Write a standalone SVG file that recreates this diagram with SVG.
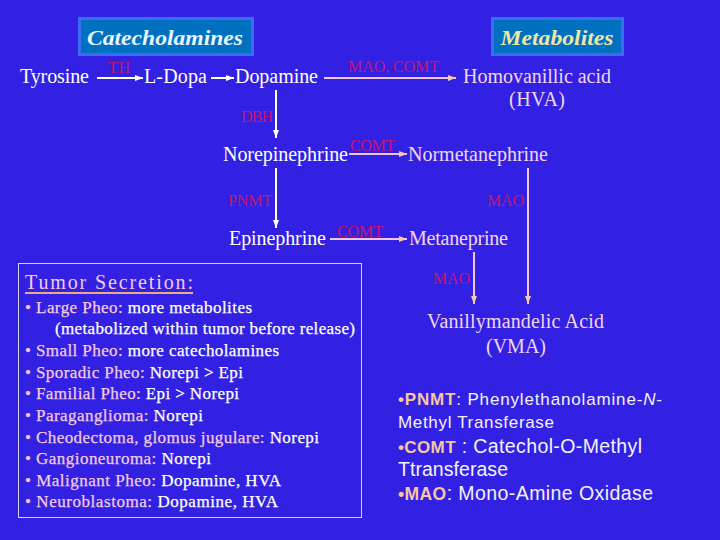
<svg xmlns="http://www.w3.org/2000/svg" width="720" height="540" viewBox="0 0 720 540">
<defs>
<style>
.bg{fill:#3221E2}
.t{font-family:"Liberation Serif","Times New Roman",serif;font-size:20px}
.w{fill:#FFFFFF}
.m{fill:#F3D6EE}
.enz{font-family:"Liberation Serif","Times New Roman",serif;font-size:16px;fill:#C4166E}
.cw{stroke:#FFFFFF;stroke-width:2;fill:none}
.cp{stroke:#F0C6E6;stroke-width:2;fill:none}
.hdr{fill:#0070C0;stroke:#3A6CF4;stroke-width:3}
.ht{font-family:"Liberation Serif","Times New Roman",serif;font-size:22px;font-style:italic;font-weight:bold}
.ts{fill:#F4CCE2}
.b{font-family:"Liberation Serif","Times New Roman",serif;font-size:17px;fill:#FFFFFF;stroke:#FFFFFF;stroke-width:0.25}
.lab{fill:#F4CCE2;stroke:#F4CCE2}
.lg{font-family:"Liberation Sans",Arial,sans-serif;fill:#F4F2FF}
.lk{fill:#F8C6A4;font-weight:bold}
</style>
<marker id="aw" viewBox="0 0 8 6" refX="8" refY="3" markerWidth="8" markerHeight="6" markerUnits="userSpaceOnUse" orient="auto"><path d="M0,0 L8,3 L0,6 z" fill="#FFFFFF"/></marker>
<marker id="ap" viewBox="0 0 8 6" refX="8" refY="3" markerWidth="8" markerHeight="6" markerUnits="userSpaceOnUse" orient="auto"><path d="M0,0 L8,3 L0,6 z" fill="#F6CCA8"/></marker>
</defs>
<rect class="bg" x="0" y="0" width="720" height="540"/>

<g id="hdr-catecholamines">
<rect class="hdr" x="79.5" y="18.5" width="173" height="36"/>
<text class="ht" x="165" y="45" text-anchor="middle" fill="#E8F6FF" textLength="156" lengthAdjust="spacingAndGlyphs">Catecholamines</text>
</g>
<g id="hdr-metabolites">
<rect class="hdr" x="492.5" y="18.5" width="130" height="36"/>
<text class="ht" x="557" y="45" text-anchor="middle" fill="#F0E6A2" textLength="113" lengthAdjust="spacingAndGlyphs">Metabolites</text>
</g>

<g id="connectors">
<line class="cw" x1="97" y1="78" x2="143" y2="78" marker-end="url(#aw)"/>
<line class="cw" x1="211" y1="78" x2="234" y2="78" marker-end="url(#aw)"/>
<line class="cp" x1="324" y1="78" x2="456" y2="78" marker-end="url(#ap)"/>
<line class="cw" x1="276" y1="90" x2="276" y2="138" marker-end="url(#aw)"/>
<line class="cp" x1="349" y1="154" x2="407" y2="154" marker-end="url(#ap)"/>
<line class="cw" x1="276" y1="168" x2="276" y2="228" marker-end="url(#aw)"/>
<line class="cp" x1="330" y1="239" x2="407" y2="239" marker-end="url(#ap)"/>
<line class="cp" x1="528" y1="168" x2="528" y2="304" marker-end="url(#ap)"/>
<line class="cp" x1="474" y1="252" x2="474" y2="304" marker-end="url(#ap)"/>
</g>

<g id="enzyme-labels">
<text class="enz" x="108" y="73" textLength="22">TH</text>
<text class="enz" x="348" y="72" textLength="91">MAO, COMT</text>
<text class="enz" x="241" y="122" textLength="32">DBH</text>
<text class="enz" x="350" y="151" textLength="45">COMT</text>
<text class="enz" x="228" y="206" textLength="44">PNMT</text>
<text class="enz" x="487" y="206" textLength="37" lengthAdjust="spacing">MAO</text>
<text class="enz" x="337" y="237" textLength="46">COMT</text>
<text class="enz" x="433" y="284" textLength="37" lengthAdjust="spacing">MAO</text>
</g>

<g id="n-tyrosine"><text class="t w" x="20" y="83" textLength="69">Tyrosine</text></g>
<g id="n-ldopa"><text class="t w" x="144" y="83" textLength="63">L-Dopa</text></g>
<g id="n-dopamine"><text class="t w" x="235" y="83" textLength="83">Dopamine</text></g>
<g id="n-hva">
<text class="t m" x="463" y="83" textLength="148">Homovanillic acid</text>
<text class="t m" x="509" y="106" textLength="56">(HVA)</text>
</g>
<g id="n-norepinephrine"><text class="t w" x="223" y="161" textLength="125">Norepinephrine</text></g>
<g id="n-normetanephrine"><text class="t m" x="408" y="161" textLength="140">Normetanephrine</text></g>
<g id="n-epinephrine"><text class="t w" x="229" y="245" textLength="97">Epinephrine</text></g>
<g id="n-metaneprine"><text class="t m" x="409" y="245" textLength="99">Metaneprine</text></g>
<g id="n-vma">
<text class="t m" x="427" y="328" font-size="18" textLength="177">Vanillymandelic Acid</text>
<text class="t m" x="486" y="353" font-size="18" textLength="60">(VMA)</text>
</g>

<g id="tumor-secretion">
<rect x="18.5" y="263.5" width="343" height="254" fill="none" stroke="#D8D4F8" stroke-width="1"/>
<text class="t ts" x="25" y="289" font-size="22.5" textLength="168">Tumor Secretion:</text>
<line x1="25" y1="293" x2="193" y2="293" stroke="#F2A878" stroke-width="2"/>
<text class="b" x="25" y="313" textLength="227"><tspan class="lab">• Large Pheo:</tspan> more metabolites</text>
<text class="b" x="55" y="334" textLength="300">(metabolized within tumor before release)</text>
<text class="b" x="25" y="356" textLength="254"><tspan class="lab">• Small Pheo:</tspan> more catecholamines</text>
<text class="b" x="25" y="378" textLength="218"><tspan class="lab">• Sporadic Pheo:</tspan> Norepi &gt; Epi</text>
<text class="b" x="25" y="399" textLength="214"><tspan class="lab">• Familial Pheo:</tspan> Epi &gt; Norepi</text>
<text class="b" x="25" y="421" textLength="178"><tspan class="lab">• Paraganglioma:</tspan> Norepi</text>
<text class="b" x="25" y="443" textLength="294"><tspan class="lab">• Cheodectoma, glomus jugulare:</tspan> Norepi</text>
<text class="b" x="25" y="464" textLength="186"><tspan class="lab">• Gangioneuroma:</tspan> Norepi</text>
<text class="b" x="25" y="486" textLength="256"><tspan class="lab">• Malignant Pheo:</tspan> Dopamine, HVA</text>
<text class="b" x="25" y="507" textLength="253"><tspan class="lab">• Neuroblastoma:</tspan> Dopamine, HVA</text>
</g>

<g id="legend">
<text class="lg" x="398" y="405" font-size="17" textLength="264"><tspan class="lk">•PNMT</tspan>: Phenylethanolamine-<tspan font-style="italic">N</tspan>-</text>
<text class="lg" x="398" y="428" font-size="17" textLength="156">Methyl Transferase</text>
<text class="lg" x="398" y="453" font-size="19.5" textLength="244"><tspan class="lk" font-size="17">•COMT</tspan> : Catechol-O-Methyl</text>
<text class="lg" x="398" y="476" font-size="19.5" textLength="110">Ttransferase</text>
<text class="lg" x="398" y="500" font-size="19.5" textLength="255"><tspan class="lk" font-size="17.5">•MAO</tspan>: Mono-Amine Oxidase</text>
</g>
</svg>
